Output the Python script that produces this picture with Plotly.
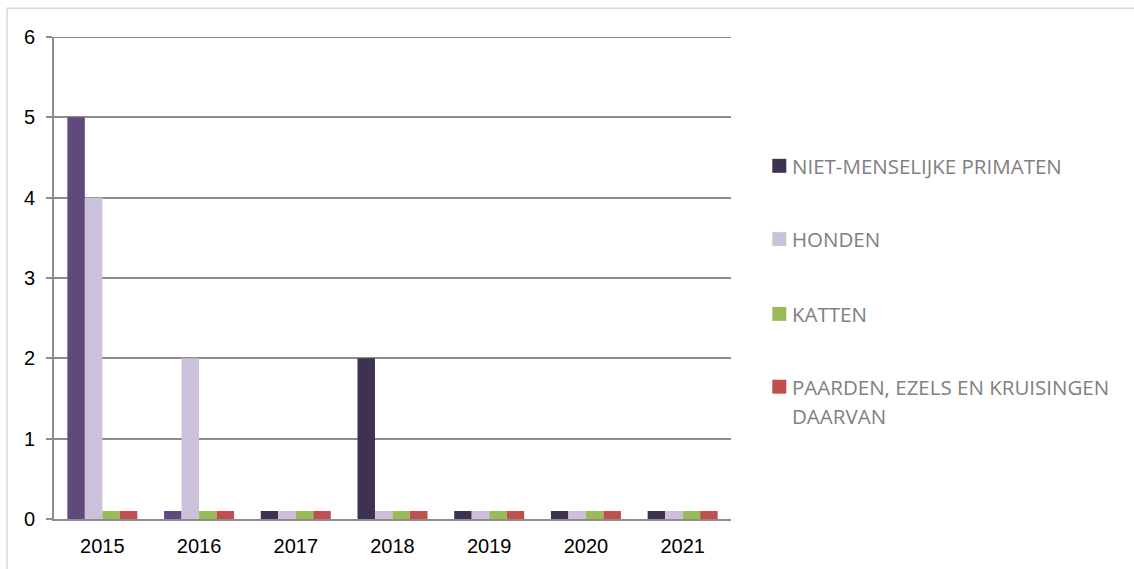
import plotly.graph_objects as go

# Data
years = ["2015", "2016", "2017", "2018", "2019", "2020", "2021"]
primaten = [5, 0.1, 0.1, 2, 0.1, 0.1, 0.1]
honden = [4, 2, 0.1, 0.1, 0.1, 0.1, 0.1]
katten = [0.1, 0.1, 0.1, 0.1, 0.1, 0.1, 0.1]
paarden = [0.1, 0.1, 0.1, 0.1, 0.1, 0.1, 0.1]

series_names = [
    "NIET-MENSELIJKE PRIMATEN",
    "HONDEN",
    "KATTEN",
    "PAARDEN, EZELS EN KRUISINGEN",
]
legend_colors = ["#3F3151", "#CCC1DA", "#9BBB59", "#C0504D"]
primaten_colors = ["#604A7B", "#604A7B", "#3F3151", "#3F3151", "#3F3151", "#3F3151", "#3F3151"]

W, H = 1134, 569
L, R, T, B = 53.5, 1134 - 730.7, 37.3, 569 - 520.7
PW, PH = W - L - R, H - T - B


def px(x):
    return (x - L) / PW


def py(y):
    return 1 - (y - T) / PH


fig = go.Figure()
fig.add_bar(x=years, y=primaten, marker=dict(color=primaten_colors, line_width=0), showlegend=False)
fig.add_bar(x=years, y=honden, marker=dict(color=legend_colors[1], line_width=0), showlegend=False)
fig.add_bar(x=years, y=katten, marker=dict(color=legend_colors[2], line_width=0), showlegend=False)
fig.add_bar(x=years, y=paarden, marker=dict(color=legend_colors[3], line_width=0), showlegend=False)

shapes = [
    # outer chart frame (top and left edges visible)
    dict(type="rect", xref="paper", yref="paper",
         x0=px(6.5), x1=px(1150), y0=py(8.5), y1=py(600),
         line=dict(color="#D9D9D9", width=1.5), fillcolor="rgba(0,0,0,0)", layer="below"),
    # top gridline at the axis maximum
    dict(type="line", xref="paper", yref="y", x0=0, x1=1, y0=6, y1=6,
         line=dict(color="#8C8C8C", width=2), layer="below"),
]
annotations = []

# legend drawn by hand
legend_font = dict(family="Open Sans", size=20.5, color="#808080")
legend_y = [166.5, 240, 315, 388]
for name, col, yy in zip(series_names, legend_colors, legend_y):
    shapes.append(dict(type="rect", xref="paper", yref="paper",
                       x0=px(772), x1=px(786), y0=py(yy - 7), y1=py(yy + 7),
                       line_width=0, fillcolor=col))
    annotations.append(dict(xref="paper", yref="paper", x=px(790), y=py(yy),
                            xanchor="left", yanchor="middle", showarrow=False,
                            text=name, font=legend_font))
annotations.append(dict(xref="paper", yref="paper", x=px(790), y=py(417),
                        xanchor="left", yanchor="middle", showarrow=False,
                        text="DAARVAN", font=legend_font))

fig.update_layout(
    width=W, height=H,
    margin=dict(l=L, r=R, t=T, b=B, pad=0),
    paper_bgcolor="white", plot_bgcolor="white",
    barmode="group", bargap=0.276, bargroupgap=0,
    showlegend=False,
    shapes=shapes, annotations=annotations,
    font=dict(family="Liberation Sans, Arial", size=20, color="#000000"),
)
fig.update_xaxes(
    showgrid=False, showline=True, linecolor="#8C8C8C", linewidth=2,
    ticks="", ticklabelstandoff=8, tickfont=dict(size=20, color="#000000"),
)
fig.update_yaxes(
    range=[0, 6], dtick=1, showgrid=True, gridcolor="#8C8C8C", gridwidth=2,
    zeroline=False, showline=True, linecolor="#8C8C8C", linewidth=2,
    ticks="outside", ticklen=6, tickcolor="#8C8C8C", tickwidth=2,
    ticklabelstandoff=7, tickfont=dict(size=20, color="#000000"),
)

fig.write_html("out.html")
